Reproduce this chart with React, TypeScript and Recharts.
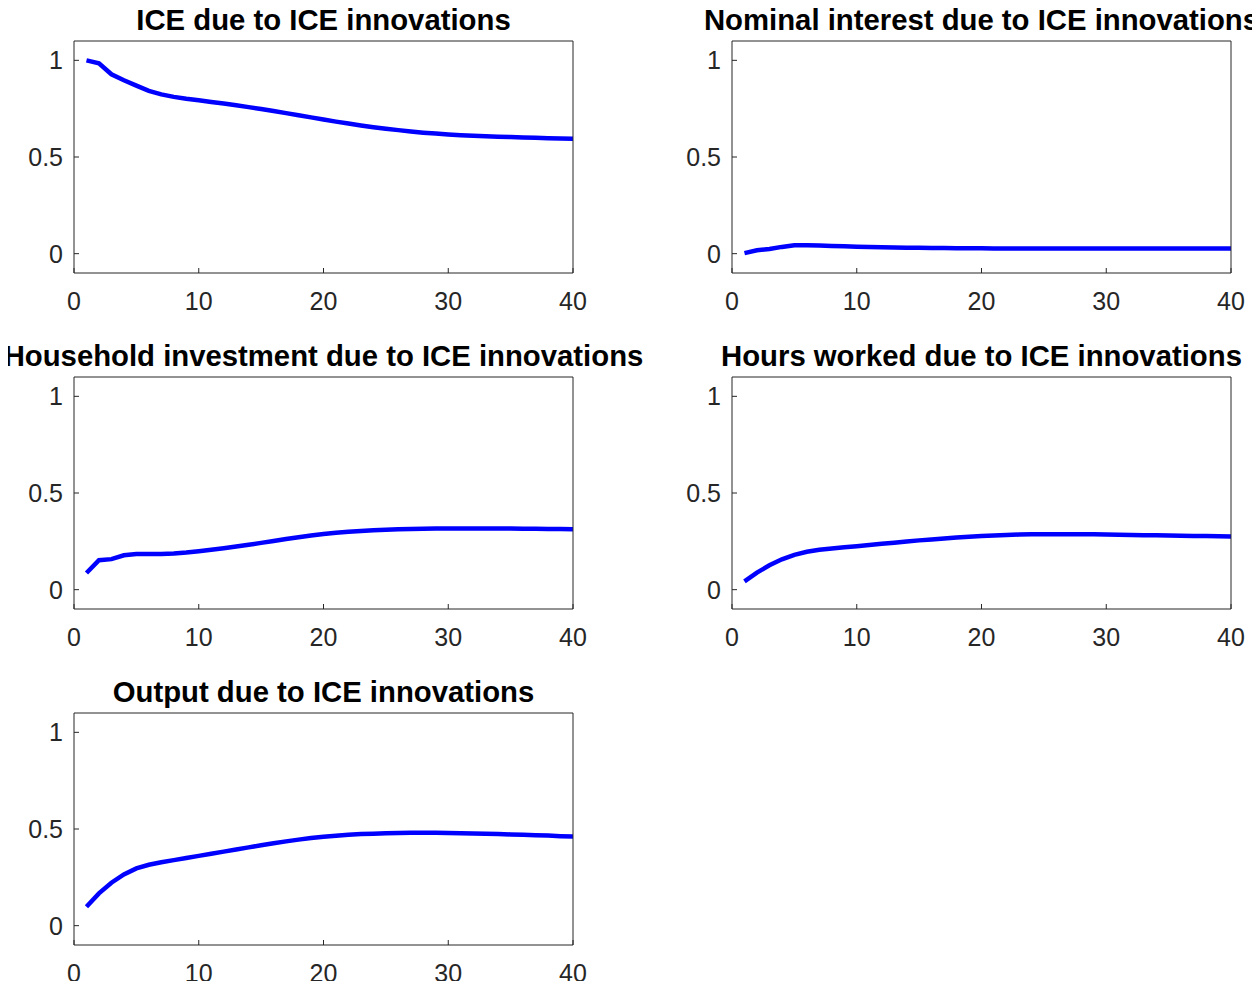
import React from "react";
import { LineChart, Line, XAxis, YAxis } from "recharts";

// horizon (quarters after the shock)
const periods = [
  1, 2, 3, 4, 5, 6, 7, 8, 9, 10, 11, 12, 13, 14, 15, 16, 17, 18, 19, 20,
  21, 22, 23, 24, 25, 26, 27, 28, 29, 30, 31, 32, 33, 34, 35, 36, 37, 38, 39, 40,
];

const iceResponse = [
  1.0, 0.985, 0.928, 0.897, 0.869, 0.842, 0.824, 0.811, 0.801, 0.793,
  0.785, 0.777, 0.768, 0.758, 0.748, 0.738, 0.727, 0.716, 0.705, 0.694,
  0.683, 0.673, 0.663, 0.654, 0.646, 0.639, 0.632, 0.626, 0.621, 0.617,
  0.613, 0.61, 0.607, 0.605, 0.603, 0.601, 0.599, 0.597, 0.596, 0.595,
];

const nominalInterest = [
  0.003, 0.018, 0.024, 0.035, 0.044, 0.044, 0.042, 0.04, 0.038, 0.036,
  0.034, 0.033, 0.032, 0.031, 0.03, 0.029, 0.029, 0.028, 0.028, 0.028,
  0.027, 0.027, 0.027, 0.027, 0.027, 0.027, 0.027, 0.027, 0.027, 0.027,
  0.027, 0.027, 0.027, 0.027, 0.027, 0.027, 0.027, 0.027, 0.027, 0.027,
];

const householdInvestment = [
  0.086, 0.152, 0.158, 0.178, 0.184, 0.184, 0.184, 0.187, 0.192, 0.199,
  0.206, 0.214, 0.223, 0.232, 0.242, 0.252, 0.262, 0.271, 0.28, 0.288,
  0.294, 0.299, 0.304, 0.307, 0.31, 0.312, 0.314, 0.315, 0.316, 0.316,
  0.316, 0.316, 0.316, 0.316, 0.316, 0.315, 0.315, 0.314, 0.314, 0.313,
];

const hoursWorked = [
  0.043, 0.088, 0.126, 0.157, 0.18, 0.196, 0.206, 0.213, 0.219, 0.225,
  0.231, 0.237, 0.243, 0.249, 0.255, 0.26, 0.265, 0.27, 0.274, 0.277,
  0.28, 0.283, 0.285, 0.286, 0.287, 0.287, 0.287, 0.287, 0.286, 0.285,
  0.284, 0.283, 0.282, 0.281, 0.28, 0.279, 0.278, 0.277, 0.276, 0.275,
];

const output = [
  0.098, 0.167, 0.222, 0.265, 0.296, 0.315, 0.328, 0.339, 0.35, 0.361,
  0.372, 0.383, 0.394, 0.405, 0.416, 0.426, 0.436, 0.445, 0.453, 0.46,
  0.465, 0.47, 0.474, 0.476, 0.478, 0.479, 0.48, 0.48, 0.48, 0.479,
  0.478, 0.477, 0.475, 0.474, 0.472, 0.47, 0.468, 0.466, 0.463, 0.461,
];

const xTicks = [0, 10, 20, 30, 40];
const yTicks = [0, 0.5, 1];

const panels = [
  { title: "ICE due to ICE innovations", values: iceResponse },
  { title: "Nominal interest due to ICE innovations", values: nominalInterest },
  { title: "Household investment due to ICE innovations", values: householdInvestment },
  { title: "Hours worked due to ICE innovations", values: hoursWorked },
  { title: "Output due to ICE innovations", values: output },
];

const FONT = '"Liberation Sans", Arial, Helvetica, sans-serif';
const AXIS = "#262626";

// plot-box geometry (page pixels)
const colLeft = [74, 732];
const rowTop = [41, 377, 713];
const PLOT_W = 499;
const PLOT_H = 232;
const Y_AXIS_W = 74;
const X_AXIS_H = 48;
const PAD = 6;
const PAD_RIGHT = 24;

function Panel({ title, values, left, top }) {
  const data = periods.map((p, i) => ({ period: p, value: values[i] }));
  const width = Y_AXIS_W + PLOT_W + PAD_RIGHT;
  const height = PAD + PLOT_H + X_AXIS_H;
  const tickStyle = { fontSize: 25, fill: AXIS, fontFamily: FONT };

  return (
    <div style={{ position: "absolute", left: left - Y_AXIS_W, top: top - PAD, width, height }}>
      <div
        style={{
          position: "absolute",
          left: Y_AXIS_W + PLOT_W / 2 - 400,
          width: 800,
          top: -30,
          textAlign: "center",
          fontFamily: FONT,
          fontWeight: "bold",
          fontSize: 29.3,
          lineHeight: "29px",
          color: "#000",
          whiteSpace: "nowrap",
        }}
      >
        {title}
      </div>
      {/* top/right box axes are 1px thick, so trim the margins by 1 */}
      <LineChart
        width={width}
        height={height}
        data={data}
        margin={{ top: PAD - 1, right: PAD_RIGHT - 1, left: 0, bottom: 0 }}
      >
        <XAxis
          dataKey="period"
          type="number"
          domain={[0, 40]}
          ticks={xTicks}
          interval={0}
          allowDataOverflow
          height={X_AXIS_H}
          stroke={AXIS}
          tickSize={-5}
          tickMargin={24}
          tick={tickStyle}
        />
        <XAxis
          xAxisId="top"
          dataKey="period"
          orientation="top"
          type="number"
          domain={[0, 40]}
          ticks={xTicks}
          interval={0}
          height={1}
          stroke={AXIS}
          tickSize={-5}
          tick={false}
        />
        <YAxis
          type="number"
          domain={[-0.1, 1.1]}
          ticks={yTicks}
          interval={0}
          allowDataOverflow
          width={Y_AXIS_W}
          stroke={AXIS}
          tickSize={-5}
          tickMargin={16}
          tick={tickStyle}
        />
        <YAxis
          yAxisId="right"
          orientation="right"
          type="number"
          domain={[-0.1, 1.1]}
          ticks={yTicks}
          interval={0}
          width={1}
          stroke={AXIS}
          tickSize={-5}
          tick={false}
        />
        {/* frame-only series so the top/right box axes get drawn */}
        <Line
          xAxisId="top"
          yAxisId="right"
          dataKey="value"
          stroke="none"
          dot={false}
          activeDot={false}
          isAnimationActive={false}
        />
        <Line
          type="linear"
          dataKey="value"
          stroke="#0000ff"
          strokeWidth={4.5}
          dot={false}
          isAnimationActive={false}
        />
      </LineChart>
    </div>
  );
}

export default function App() {
  return (
    <div style={{ position: "relative", width: 1260, height: 989, margin: -8, background: "#fff" }}>
      {panels.map((p, i) => (
        <Panel
          key={p.title}
          title={p.title}
          values={p.values}
          left={colLeft[i % 2]}
          top={rowTop[Math.floor(i / 2)]}
        />
      ))}
    </div>
  );
}
